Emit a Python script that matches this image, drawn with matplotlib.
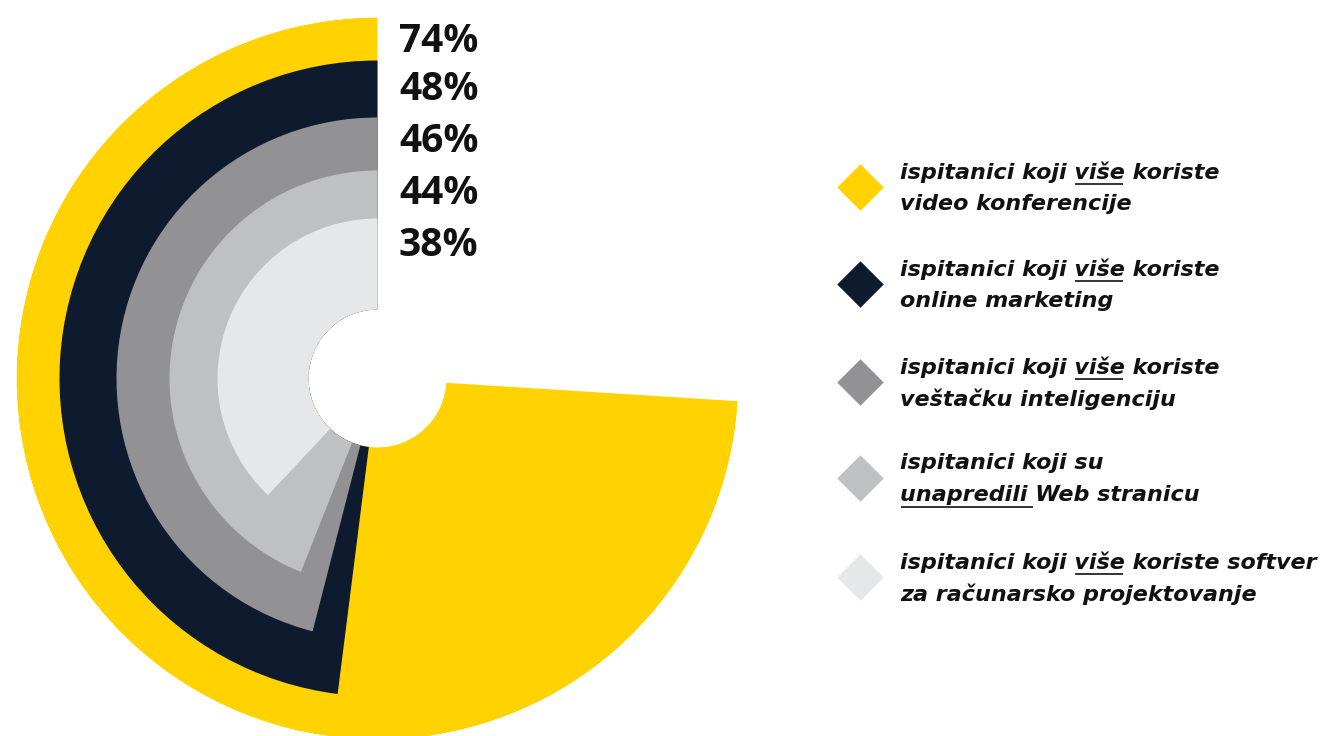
import numpy as np
import matplotlib
matplotlib.use("Agg")
import matplotlib.pyplot as plt

# ---- data ----
categories = [
    "video konferencije",
    "online marketing",
    "veštačku inteligenciju",
    "unapredili Web stranicu",
    "softver za računarsko projektovanje",
]
values = [74, 48, 46, 44, 38]
value_labels = ["74%", "48%", "46%", "44%", "38%"]
legend_lines = [
    [[("ispitanici koji ", False), ("više", True), (" koriste", False)], [("video konferencije", False)]],
    [[("ispitanici koji ", False), ("više", True), (" koriste", False)], [("online marketing", False)]],
    [[("ispitanici koji ", False), ("više", True), (" koriste", False)], [("veštačku inteligenciju", False)]],
    [[("ispitanici koji su", False)], [("unapredili ", True), ("Web stranicu", False)]],
    [[("ispitanici koji ", False), ("više", True), (" koriste softver", False)], [("za računarsko projektovanje", False)]],
]
colors = ["#FFD200", "#0E1A2D", "#929295", "#BFC0C2", "#E6E7E9"]

# ---- layout (pixels) ----
W, H = 1321, 736
cx, cy = 377.5, 378.5
outer = [361, 318, 261, 208, 160]
hole = 69
label_y = [40, 89, 141, 192, 244]
legend_y = [187, 284, 382, 478, 577]

fig = plt.figure(figsize=(W / 100, H / 100), dpi=100)
R = outer[0]
ax = fig.add_axes([(cx - R) / W, (H - cy - R) / H, 2 * R / W, 2 * R / H], projection="polar")
ax.set_theta_zero_location("N")
ax.set_theta_direction(1)
for v, r, c in zip(values, outer, colors):
    ax.bar(0, r - hole, width=v / 100 * 2 * np.pi, bottom=hole, align="edge",
           color=c, linewidth=0, antialiased=True)
ax.set_ylim(0, R)
ax.set_axis_off()

# overlay in pixel coordinates
ov = fig.add_axes([0, 0, 1, 1])
ov.set_xlim(0, W)
ov.set_ylim(H, 0)
ov.set_axis_off()
ov.patch.set_alpha(0)

for lab, y in zip(value_labels, label_y):
    ov.text(399, y + 1, lab, fontsize=28, fontweight="bold", family="Open Sans",
            ha="left", va="center", color="#111111")

fig.canvas.draw()
renderer = fig.canvas.get_renderer()

def text_width(s, **kw):
    t = ov.text(0, 0, s, **kw)
    bb = t.get_window_extent(renderer=renderer)
    t.remove()
    return bb.width

tkw = dict(fontsize=16, fontweight="bold", fontstyle="oblique", family="DejaVu Sans", color="#111111")
line_gap = 32
for i, (c, y) in enumerate(zip(colors, legend_y)):
    ov.scatter([860], [y], marker="D", s=560, color=c, linewidths=0)
    lines = legend_lines[i]
    for j, segs in enumerate(lines):
        ly = y - 15 + j * line_gap
        full = "".join(s for s, _ in segs)
        ov.text(900, ly, full, ha="left", va="center", **tkw)
        x = 900
        for s, u in segs:
            w = text_width(s, **tkw)
            if u:
                ov.plot([x + 1, x + w - 2], [ly + 12, ly + 12], color="#111111", lw=1.2,
                        solid_capstyle="butt")
            x += w

fig.savefig("out.png", dpi=100, facecolor="white")
